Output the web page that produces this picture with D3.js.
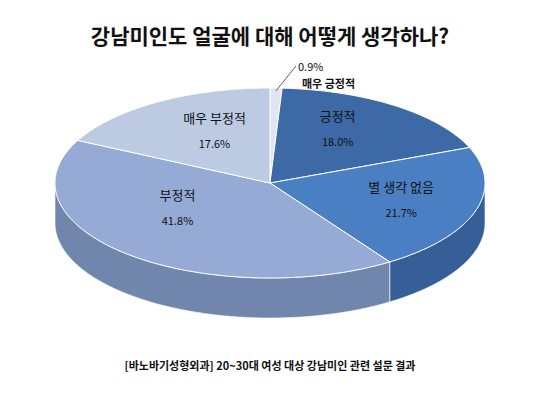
<!DOCTYPE html>
<html><head><meta charset="utf-8">
<script src="https://cdn.jsdelivr.net/npm/d3@7"></script>
<style>body{margin:0;background:#fff}</style>
</head><body>
<svg id="c" width="540" height="405"></svg>
<script>
var categories = ['매우 긍정적', '긍정적', '별 생각 없음', '부정적', '매우 부정적'];
var values = [0.9, 18.0, 21.7, 41.8, 17.6];
var labels = ['0.9%', '18.0%', '21.7%', '41.8%', '17.6%'];
var topColors = ['#dfe6f2', '#3d69a7', '#4b7fc4', '#95aad5', '#bccae2'];
var sideColors = ['#b9c4d8', '#2c4f82', '#365f97', '#7086ad', '#95a4c0'];

var svg = d3.select('#c');
var cx = 270, cy = 183, rx = 215, ry = 95, depth = 40;
var font = "'Noto Sans CJK KR', sans-serif";

var pie = d3.pie().sort(null).value(function(d){ return d; });
var arcs = pie(values);

function px(a, k){ return cx + rx * (k||1) * Math.sin(a); }
function py(a, k){ return cy - ry * (k||1) * Math.cos(a); }

function topPath(s, e){
  var p = d3.path();
  p.moveTo(cx, cy);
  p.lineTo(px(s), py(s));
  for (var a = s; a <= e; a += 0.01) p.lineTo(px(a), py(a));
  p.lineTo(px(e), py(e));
  p.closePath();
  return p.toString();
}
function sidePath(s, e){
  s = Math.max(s, Math.PI/2); e = Math.min(e, Math.PI*1.5);
  if (e <= s) return null;
  var p = d3.path(), a;
  p.moveTo(px(s), py(s));
  for (a = s; a <= e; a += 0.01) p.lineTo(px(a), py(a));
  p.lineTo(px(e), py(e));
  p.lineTo(px(e), py(e) + depth);
  for (a = e; a >= s; a -= 0.01) p.lineTo(px(a), py(a) + depth);
  p.lineTo(px(s), py(s) + depth);
  p.closePath();
  return p.toString();
}

var g = svg.append('g');
arcs.forEach(function(d, i){
  var sp = sidePath(d.startAngle, d.endAngle);
  if (sp) g.append('path').attr('d', sp).attr('fill', sideColors[i]).attr('stroke', '#fff').attr('stroke-width', 0.6);
});
arcs.forEach(function(d, i){
  g.append('path').attr('d', topPath(d.startAngle, d.endAngle))
    .attr('fill', topColors[i]).attr('stroke', '#fff').attr('stroke-width', 1);
});

var offs = [null, [-5, -17], [12, -7], [-10, -24], [10, -13]];
arcs.forEach(function(d, i){
  if (i === 0) return;
  var m = (d.startAngle + d.endAngle) / 2;
  var x = px(m, 0.58) + offs[i][0], y = py(m, 0.58) + offs[i][1];
  g.append('text').attr('x', x).attr('y', y).attr('text-anchor', 'middle')
    .attr('font-family', font).attr('font-size', 13).attr('fill', '#111').text(categories[i]);
  g.append('text').attr('x', x).attr('y', y + 25).attr('text-anchor', 'middle')
    .attr('font-family', font).attr('font-size', 11).attr('fill', '#111').text(labels[i]);
});
var m0 = (arcs[0].startAngle + arcs[0].endAngle) / 2;
g.append('line').attr('x1', px(m0, 0.97)).attr('y1', py(m0, 0.97)).attr('x2', 296).attr('y2', 66)
  .attr('stroke', '#333').attr('stroke-width', 0.8);
g.append('text').attr('x', 298).attr('y', 71).attr('font-family', font).attr('font-size', 11).attr('fill', '#111').text(labels[0]);
g.append('text').attr('x', 302).attr('y', 88).attr('font-family', font).attr('font-size', 11).attr('font-weight', 'bold').attr('fill', '#111').text(categories[0]);

svg.append('text').attr('x', 270).attr('y', 44).attr('text-anchor', 'middle')
  .attr('font-family', font).attr('font-size', 21).attr('font-weight', 'bold').attr('fill', '#111')
  .text('강남미인도 얼굴에 대해 어떻게 생각하나?');
svg.append('text').attr('x', 270).attr('y', 370).attr('text-anchor', 'middle')
  .attr('font-family', font).attr('font-size', 11).attr('font-weight', 'bold').attr('fill', '#111')
  .text('[바노바기성형외과] 20~30대 여성 대상 강남미인 관련 설문 결과');
</script>
</body></html>
